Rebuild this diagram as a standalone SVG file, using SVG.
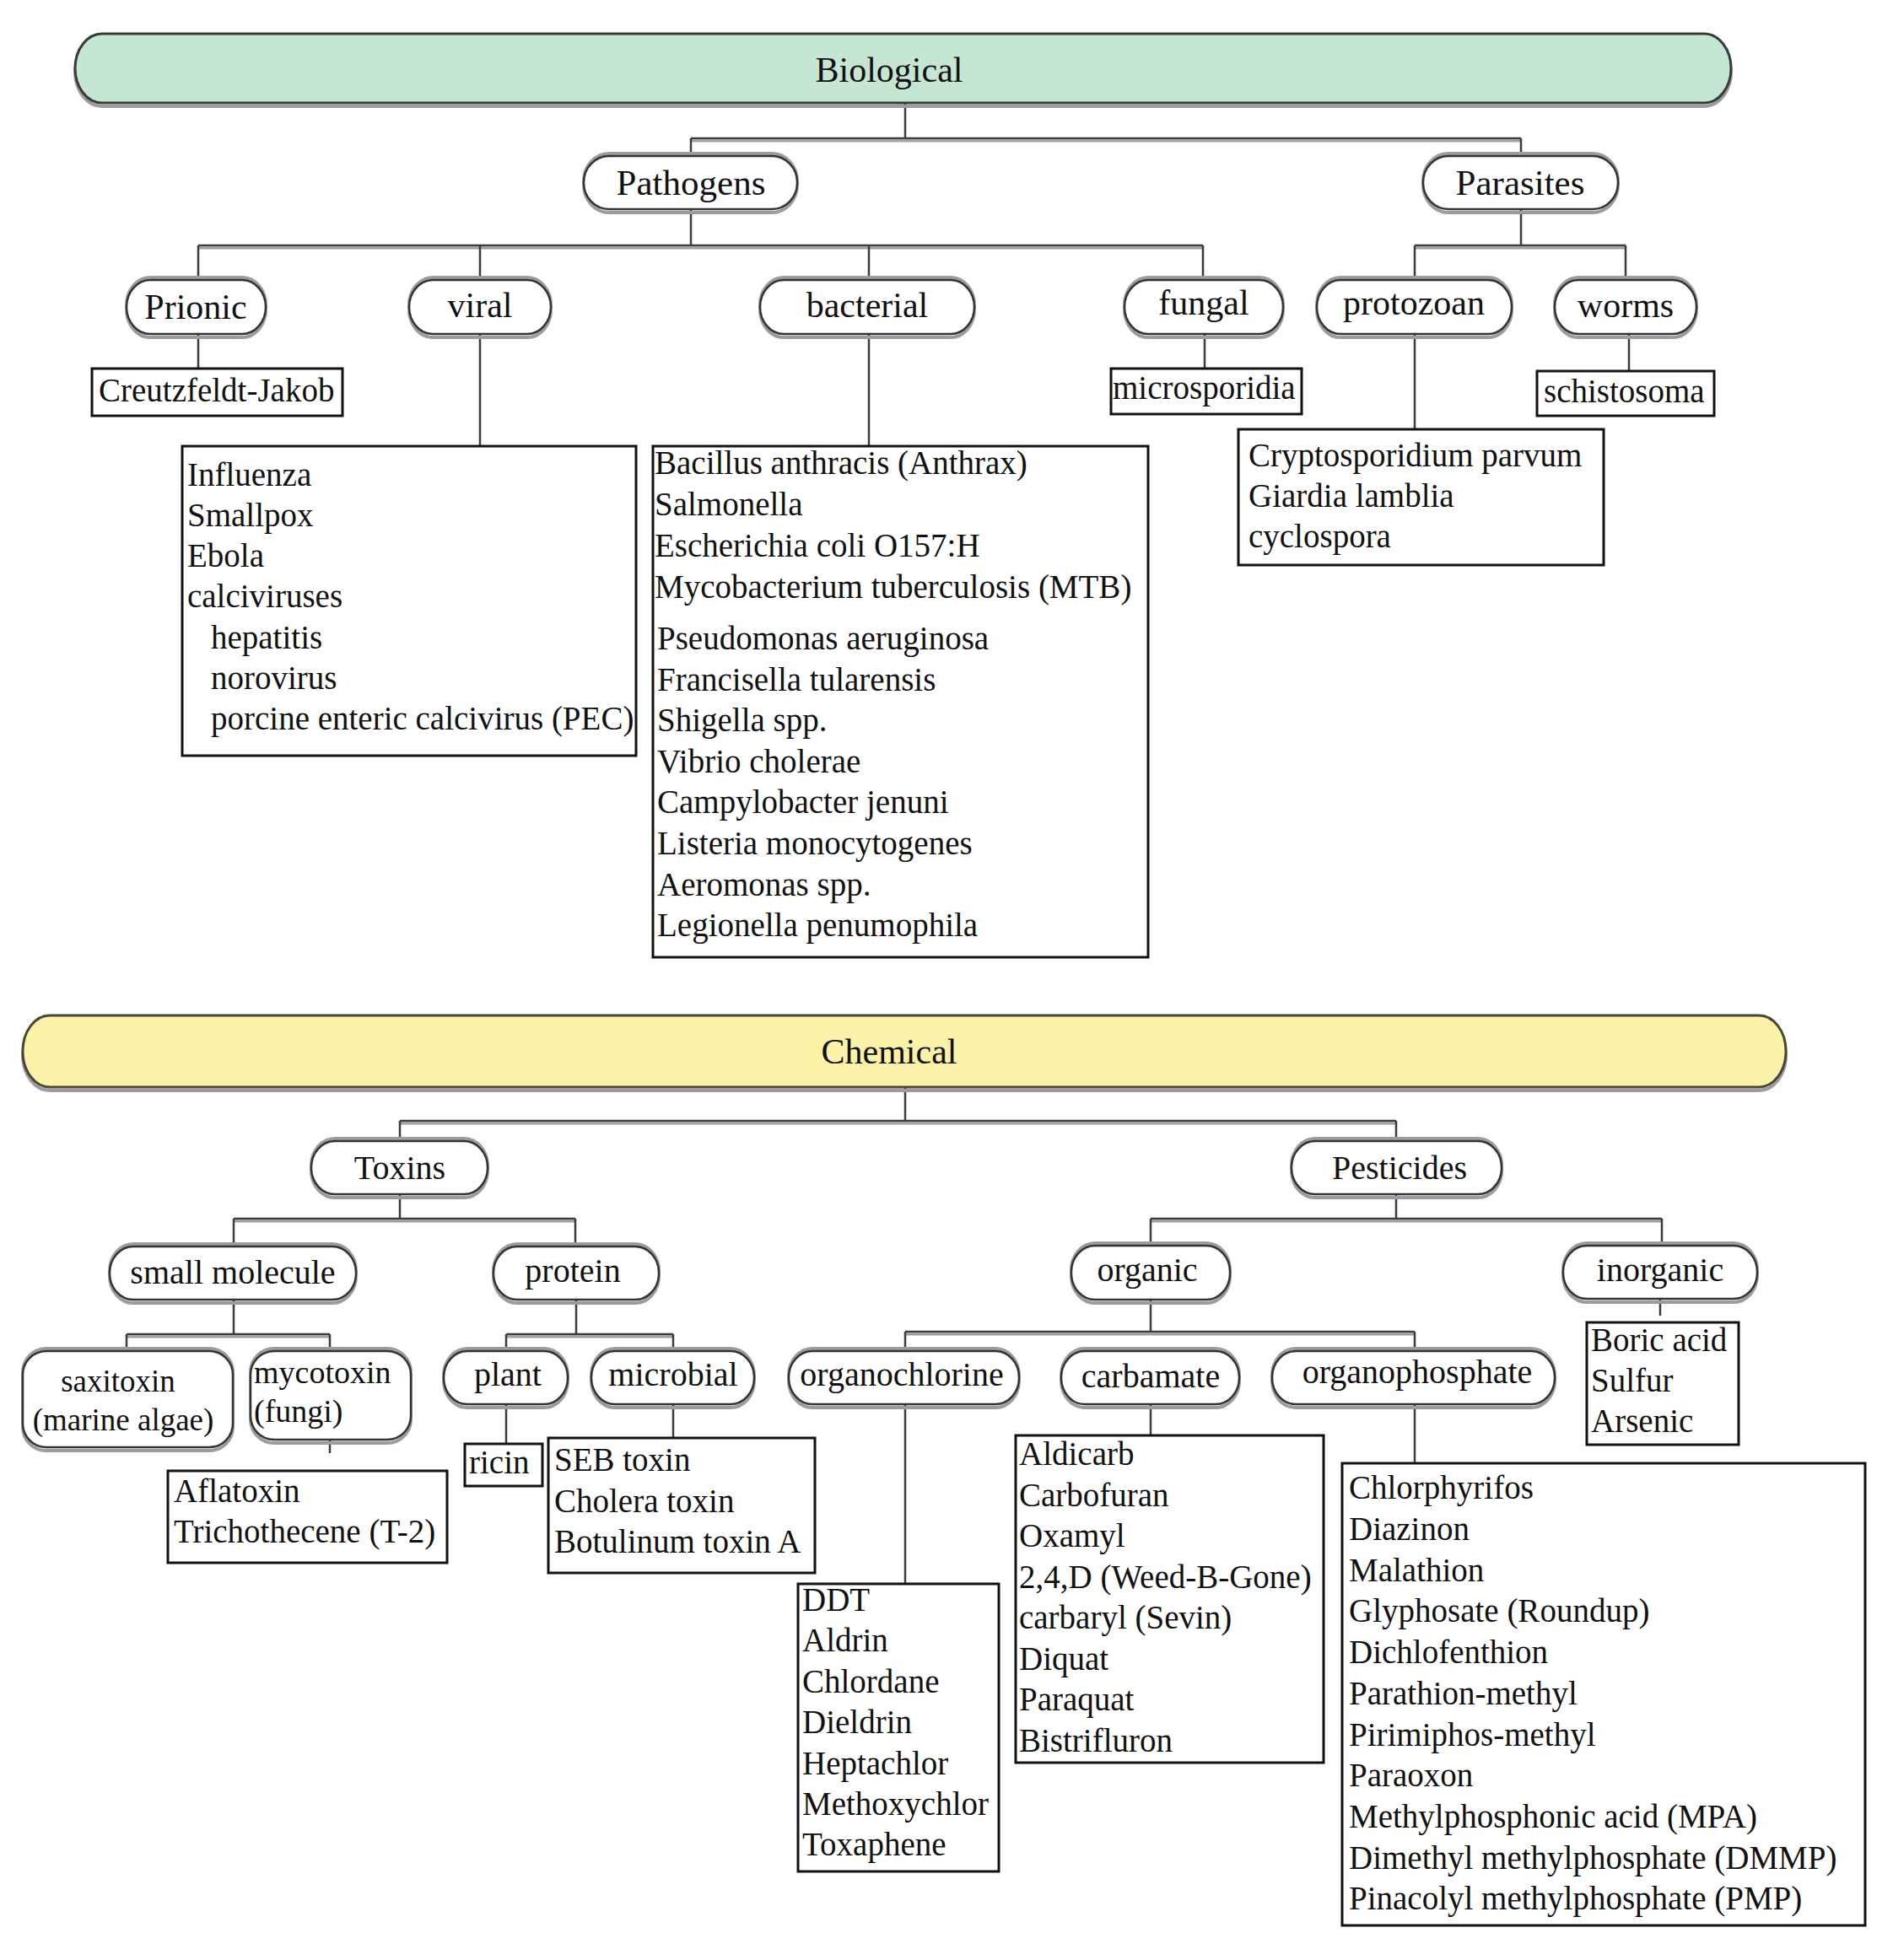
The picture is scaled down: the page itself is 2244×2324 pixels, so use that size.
<svg xmlns="http://www.w3.org/2000/svg" width="2244" height="2324" viewBox="0 0 2244 2324">
<style>
text{font-family:"Liberation Serif","Times New Roman",serif;fill:#111}
.t1{font-size:42px;text-anchor:middle}
.t2{font-size:43px;text-anchor:middle}
.tn{font-size:42px;text-anchor:middle}
.tc{font-size:40px;text-anchor:middle}
.ts{font-size:37px;text-anchor:middle}
.tl{font-size:39px}
.sh{fill:none;stroke:#9c9c9c;stroke-width:4}
.nd{fill:#fff;stroke:#333;stroke-width:2.5}
.bio{fill:#c6e6d4;stroke:#3a3a3a;stroke-width:3}
.chem{fill:#fcf2a8;stroke:#4a4636;stroke-width:3}
.bx{fill:#fff;stroke:#111;stroke-width:3}
.cn{fill:none;stroke:#3c3c3c;stroke-width:2.5}
.cnh{fill:none;stroke:#a0a0a0;stroke-width:3}
</style>
<rect width="2244" height="2324" fill="#fff"/>

<g id="connectors">
<path class="cnh" d="M819 167H1803M235 294H1426M1677 294H1927M474 1332H1655M277 1448H682M1364 1448H1970M150 1585H391M600 1585H798M1073 1582H1677"/>
<path class="cn" d="M1073 122V164M819 164H1803M819 164V185M1803 164V185M819 248V291M235 291H1426M235 291V332M569 291V332M1030 291V332M1426 291V332M1803 248V291M1677 291H1927M1677 291V332M1927 291V332M235 396V437M569 396V529M1030 396V529M1428 396V437M1677 396V509M1931 396V440"/>
<path class="cn" d="M1073 1289V1329M474 1329H1655M474 1329V1353M1655 1329V1353M474 1416V1445M277 1445H682M277 1445V1478M682 1445V1478M1655 1416V1445M1364 1445H1970M1364 1445V1478M1970 1445V1478M277 1541V1582M150 1582H391M150 1582V1602M391 1582V1602M391 1698V1723M683 1541V1582M600 1582H798M600 1582V1602M798 1582V1602M600 1665V1712M798 1665V1705M1364 1542V1579M1073 1579H1677M1073 1579V1602M1677 1579V1602M1073 1665V1878M1364 1665V1702M1677 1665V1735M1968 1540V1560"/>
</g>

<g id="biological">
<rect class="sh" x="89" y="44" width="1963" height="82" rx="32" ry="41"/>
<rect class="bio" x="89" y="40" width="1963" height="82" rx="32" ry="41"/>
<text class="t1" x="1054" y="97">Biological</text>
</g>

<g id="pathogens">
<rect class="sh" x="692" y="182" width="253" height="70" rx="30" ry="33"/>
<rect class="nd" x="692" y="185" width="253" height="63" rx="30" ry="31"/>
<text class="t2" x="819" y="231">Pathogens</text>
</g>
<g id="parasites">
<rect class="sh" x="1687" y="182" width="231" height="70" rx="30" ry="33"/>
<rect class="nd" x="1687" y="185" width="231" height="63" rx="30" ry="31"/>
<text class="t2" x="1802" y="231">Parasites</text>
</g>

<g id="prionic">
<rect class="sh" x="150" y="329" width="165" height="71" rx="28" ry="33"/>
<rect class="nd" x="150" y="332" width="165" height="64" rx="28" ry="32"/>
<text class="tn" x="232" y="378">Prionic</text>
</g>
<g id="viral">
<rect class="sh" x="485" y="329" width="168" height="71" rx="28" ry="33"/>
<rect class="nd" x="485" y="332" width="168" height="64" rx="28" ry="32"/>
<text class="tn" x="569" y="376">viral</text>
</g>
<g id="bacterial">
<rect class="sh" x="901" y="329" width="254" height="71" rx="28" ry="33"/>
<rect class="nd" x="901" y="332" width="254" height="64" rx="28" ry="32"/>
<text class="tn" x="1028" y="376">bacterial</text>
</g>
<g id="fungal">
<rect class="sh" x="1333" y="329" width="188" height="71" rx="28" ry="33"/>
<rect class="nd" x="1333" y="332" width="188" height="64" rx="28" ry="32"/>
<text class="tn" x="1427" y="373">fungal</text>
</g>
<g id="protozoan">
<rect class="sh" x="1561" y="329" width="231" height="71" rx="28" ry="33"/>
<rect class="nd" x="1561" y="332" width="231" height="64" rx="28" ry="32"/>
<text class="tn" x="1676" y="373">protozoan</text>
</g>
<g id="worms">
<rect class="sh" x="1843" y="329" width="168" height="71" rx="28" ry="33"/>
<rect class="nd" x="1843" y="332" width="168" height="64" rx="28" ry="32"/>
<text class="tn" x="1927" y="376">worms</text>
</g>

<g id="creutzfeldt">
<rect class="bx" x="109" y="437" width="297" height="56"/>
<text class="tl" x="117" y="476">Creutzfeldt-Jakob</text>
</g>
<g id="microsporidia">
<rect class="bx" x="1317" y="437" width="226" height="54"/>
<text class="tl" x="1319" y="473">microsporidia</text>
</g>
<g id="schistosoma">
<rect class="bx" x="1822" y="440" width="210" height="53"/>
<text class="tl" x="1830" y="477">schistosoma</text>
</g>

<g id="viral-list">
<rect class="bx" x="216" y="529" width="538" height="367"/>
<text class="tl"><tspan x="222" y="576">Influenza</tspan><tspan x="222" y="624">Smallpox</tspan><tspan x="222" y="672">Ebola</tspan><tspan x="222" y="720">calciviruses</tspan><tspan x="250" y="769">hepatitis</tspan><tspan x="250" y="817">norovirus</tspan><tspan x="250" y="865">porcine enteric calcivirus (PEC)</tspan></text>
</g>

<g id="bacterial-list">
<rect class="bx" x="774" y="529" width="587" height="606"/>
<text class="tl"><tspan x="776" y="562">Bacillus anthracis (Anthrax)</tspan><tspan x="776" y="611">Salmonella</tspan><tspan x="776" y="660">Escherichia coli O157:H</tspan><tspan x="776" y="709">Mycobacterium tuberculosis (MTB)</tspan><tspan x="779" y="770">Pseudomonas aeruginosa</tspan><tspan x="779" y="819">Francisella tularensis</tspan><tspan x="779" y="867">Shigella spp.</tspan><tspan x="779" y="916">Vibrio cholerae</tspan><tspan x="779" y="964">Campylobacter jenuni</tspan><tspan x="779" y="1013">Listeria monocytogenes</tspan><tspan x="779" y="1062">Aeromonas spp.</tspan><tspan x="779" y="1110">Legionella penumophila</tspan></text>
</g>

<g id="protozoan-list">
<rect class="bx" x="1468" y="509" width="433" height="161"/>
<text class="tl"><tspan x="1480" y="553">Cryptosporidium parvum</tspan><tspan x="1480" y="601">Giardia lamblia</tspan><tspan x="1480" y="649">cyclospora</tspan></text>
</g>

<g id="chemical">
<rect class="sh" x="27" y="1208" width="2090" height="85" rx="32" ry="42"/>
<rect class="chem" x="27" y="1204" width="2090" height="85" rx="32" ry="42"/>
<text class="t1" x="1054" y="1261">Chemical</text>
</g>

<g id="toxins">
<rect class="sh" x="369" y="1350" width="209" height="70" rx="28" ry="32"/>
<rect class="nd" x="369" y="1353" width="209" height="63" rx="28" ry="31"/>
<text class="tc" x="474" y="1398">Toxins</text>
</g>
<g id="pesticides">
<rect class="sh" x="1531" y="1350" width="249" height="70" rx="28" ry="32"/>
<rect class="nd" x="1531" y="1353" width="249" height="63" rx="28" ry="31"/>
<text class="tc" x="1659" y="1398">Pesticides</text>
</g>

<g id="small-molecule">
<rect class="sh" x="130" y="1475" width="292" height="70" rx="28" ry="32"/>
<rect class="nd" x="130" y="1478" width="292" height="63" rx="28" ry="31"/>
<text class="tc" x="276" y="1522">small molecule</text>
</g>
<g id="protein">
<rect class="sh" x="585" y="1475" width="196" height="70" rx="28" ry="32"/>
<rect class="nd" x="585" y="1478" width="196" height="63" rx="28" ry="31"/>
<text class="tc" x="679" y="1520">protein</text>
</g>
<g id="organic">
<rect class="sh" x="1270" y="1474" width="188" height="71" rx="28" ry="32"/>
<rect class="nd" x="1270" y="1477" width="188" height="64" rx="28" ry="31"/>
<text class="tc" x="1360" y="1519">organic</text>
</g>
<g id="inorganic">
<rect class="sh" x="1853" y="1474" width="230" height="70" rx="28" ry="32"/>
<rect class="nd" x="1853" y="1477" width="230" height="63" rx="28" ry="31"/>
<text class="tc" x="1968" y="1519">inorganic</text>
</g>

<g id="saxitoxin">
<rect class="sh" x="27" y="1599" width="249" height="121" rx="28" ry="28"/>
<rect class="nd" x="27" y="1602" width="249" height="114" rx="28" ry="28"/>
<text class="ts"><tspan x="140" y="1650">saxitoxin</tspan><tspan x="146" y="1696">(marine algae)</tspan></text>
</g>
<g id="mycotoxin">
<rect class="sh" x="297" y="1599" width="190" height="112" rx="28" ry="28"/>
<rect class="nd" x="297" y="1602" width="190" height="105" rx="28" ry="28"/>
<text class="ts" style="text-anchor:start;font-size:38px"><tspan x="301" y="1640">mycotoxin</tspan><tspan x="301" y="1686">(fungi)</tspan></text>
</g>
<g id="plant">
<rect class="sh" x="526" y="1599" width="147" height="70" rx="28" ry="32"/>
<rect class="nd" x="526" y="1602" width="147" height="63" rx="28" ry="31"/>
<text class="tc" x="602" y="1643">plant</text>
</g>
<g id="microbial">
<rect class="sh" x="701" y="1599" width="193" height="70" rx="28" ry="32"/>
<rect class="nd" x="701" y="1602" width="193" height="63" rx="28" ry="31"/>
<text class="tc" x="798" y="1643">microbial</text>
</g>
<g id="organochlorine">
<rect class="sh" x="935" y="1599" width="273" height="70" rx="28" ry="32"/>
<rect class="nd" x="935" y="1602" width="273" height="63" rx="28" ry="31"/>
<text class="tc" x="1069" y="1643">organochlorine</text>
</g>
<g id="carbamate">
<rect class="sh" x="1258" y="1599" width="211" height="70" rx="28" ry="32"/>
<rect class="nd" x="1258" y="1602" width="211" height="63" rx="28" ry="31"/>
<text class="tc" x="1364" y="1645">carbamate</text>
</g>
<g id="organophosphate">
<rect class="sh" x="1508" y="1599" width="335" height="70" rx="28" ry="32"/>
<rect class="nd" x="1508" y="1602" width="335" height="63" rx="28" ry="31"/>
<text class="tc" x="1680" y="1640">organophosphate</text>
</g>

<g id="mycotoxin-list">
<rect class="bx" x="199" y="1744" width="331" height="109"/>
<text class="tl"><tspan x="206" y="1781">Aflatoxin</tspan><tspan x="206" y="1829">Trichothecene (T-2)</tspan></text>
</g>
<g id="ricin">
<rect class="bx" x="551" y="1712" width="92" height="50"/>
<text class="tl" x="556" y="1747">ricin</text>
</g>
<g id="microbial-list">
<rect class="bx" x="650" y="1705" width="316" height="160"/>
<text class="tl"><tspan x="657" y="1744">SEB toxin</tspan><tspan x="657" y="1793">Cholera toxin</tspan><tspan x="657" y="1841">Botulinum toxin A</tspan></text>
</g>
<g id="organochlorine-list">
<rect class="bx" x="946" y="1878" width="238" height="341"/>
<text class="tl"><tspan x="951" y="1910">DDT</tspan><tspan x="951" y="1958">Aldrin</tspan><tspan x="951" y="2007">Chlordane</tspan><tspan x="951" y="2055">Dieldrin</tspan><tspan x="951" y="2104">Heptachlor</tspan><tspan x="951" y="2152">Methoxychlor</tspan><tspan x="951" y="2200">Toxaphene</tspan></text>
</g>
<g id="carbamate-list">
<rect class="bx" x="1204" y="1702" width="365" height="388"/>
<text class="tl"><tspan x="1208" y="1737">Aldicarb</tspan><tspan x="1208" y="1786">Carbofuran</tspan><tspan x="1208" y="1834">Oxamyl</tspan><tspan x="1208" y="1883">2,4,D (Weed-B-Gone)</tspan><tspan x="1208" y="1931">carbaryl (Sevin)</tspan><tspan x="1208" y="1980">Diquat</tspan><tspan x="1208" y="2028">Paraquat</tspan><tspan x="1208" y="2077">Bistrifluron</tspan></text>
</g>
<g id="organophosphate-list">
<rect class="bx" x="1591" y="1735" width="620" height="548"/>
<text class="tl"><tspan x="1599" y="1777">Chlorphyrifos</tspan><tspan x="1599" y="1826">Diazinon</tspan><tspan x="1599" y="1875">Malathion</tspan><tspan x="1599" y="1923">Glyphosate (Roundup)</tspan><tspan x="1599" y="1972">Dichlofenthion</tspan><tspan x="1599" y="2021">Parathion-methyl</tspan><tspan x="1599" y="2070">Pirimiphos-methyl</tspan><tspan x="1599" y="2118">Paraoxon</tspan><tspan x="1599" y="2167">Methylphosphonic acid (MPA)</tspan><tspan x="1599" y="2216">Dimethyl methylphosphate (DMMP)</tspan><tspan x="1599" y="2264">Pinacolyl methylphosphate (PMP)</tspan></text>
</g>
<g id="inorganic-list">
<rect class="bx" x="1881" y="1568" width="180" height="145"/>
<text class="tl"><tspan x="1886" y="1602">Boric acid</tspan><tspan x="1886" y="1650">Sulfur</tspan><tspan x="1886" y="1698">Arsenic</tspan></text>
</g>
</svg>
